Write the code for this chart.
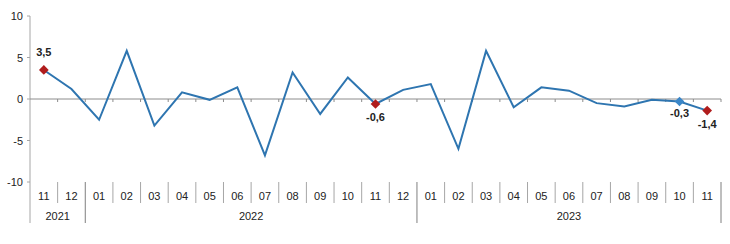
<!DOCTYPE html>
<html>
<head>
<meta charset="utf-8">
<script src="https://cdn.jsdelivr.net/npm/d3@7"></script>
<style>
  body { margin: 0; background: #fff; }
  text { font-family: "Liberation Sans", Arial, sans-serif; }
</style>
</head>
<body>
<div id="chart"></div>
<script>
const months = ['11', '12', '01', '02', '03', '04', '05', '06', '07', '08', '09', '10', '11', '12',
  '01', '02', '03', '04', '05', '06', '07', '08', '09', '10', '11']
const years = ['2021', '2021', '2022', '2022', '2022', '2022', '2022', '2022', '2022', '2022', '2022', '2022', '2022', '2022',
  '2023', '2023', '2023', '2023', '2023', '2023', '2023', '2023', '2023', '2023', '2023']
const values = [3.5, 1.2, -2.5, 5.8, -3.2, 0.8, -0.1, 1.4, -6.8, 3.2, -1.8, 2.6, -0.6, 1.1,
  1.8, -6.0, 5.8, -1.0, 1.4, 1.0, -0.5, -0.9, -0.1, -0.3, -1.4]
const yTicks = [-10, -5, 0, 5, 10]
// highlighted points: index, colour, label offset
const marked = [
  { i: 0, color: '#b01c1c', dy: -14 },
  { i: 12, color: '#b01c1c', dy: 17 },
  { i: 23, color: '#3a86c8', dy: 16 },
  { i: 24, color: '#b01c1c', dy: 17 }
]

const width = 730
const height = 244
const margin = { top: 16, left: 30, right: 9, bottom: 62 }

const svg = d3
  .select('#chart')
  .append('svg')
  .attr('width', width)
  .attr('height', height)

const keys = months.map((m, i) => i)

const xScale = d3
  .scaleBand()
  .domain(keys)
  .range([margin.left, width - margin.right])

const yScale = d3
  .scaleLinear()
  .domain([-10, 10])
  .range([height - margin.bottom, margin.top])

const cx = i => xScale(i) + xScale.bandwidth() / 2

// y axis
svg
  .append('line')
  .attr('x1', margin.left)
  .attr('x2', margin.left)
  .attr('y1', yScale(10))
  .attr('y2', 223)
  .attr('stroke', '#a6a6a6')

svg
  .selectAll('.ytick')
  .data(yTicks)
  .enter()
  .append('line')
  .attr('x1', margin.left - 3)
  .attr('x2', margin.left)
  .attr('y1', d => yScale(d))
  .attr('y2', d => yScale(d))
  .attr('stroke', '#a6a6a6')

svg
  .selectAll('.ylabel')
  .data(yTicks)
  .enter()
  .append('text')
  .attr('x', margin.left - 7)
  .attr('y', d => yScale(d) + 4)
  .attr('text-anchor', 'end')
  .style('font-size', '11px')
  .attr('fill', '#222')
  .text(d => d)

// zero line with small ticks
svg
  .append('line')
  .attr('x1', margin.left)
  .attr('x2', width - margin.right)
  .attr('y1', yScale(0))
  .attr('y2', yScale(0))
  .attr('stroke', '#8c8c8c')

svg
  .selectAll('.ztick')
  .data(keys.slice(1).concat([keys.length]))
  .enter()
  .append('line')
  .attr('x1', d => (d < keys.length ? xScale(d) : width - margin.right))
  .attr('x2', d => (d < keys.length ? xScale(d) : width - margin.right))
  .attr('y1', yScale(0))
  .attr('y2', yScale(0) + 3)
  .attr('stroke', '#8c8c8c')

// category labels and separators
const base = yScale(-10)

svg
  .selectAll('.msep')
  .data(keys.slice(1).filter(i => years[i] === years[i - 1]))
  .enter()
  .append('line')
  .attr('x1', d => xScale(d))
  .attr('x2', d => xScale(d))
  .attr('y1', base)
  .attr('y2', base + 21)
  .attr('stroke', '#a6a6a6')

const yearBreaks = keys.slice(1).filter(i => years[i] !== years[i - 1])

svg
  .selectAll('.ysep')
  .data(yearBreaks.map(i => xScale(i)).concat([width - margin.right]))
  .enter()
  .append('line')
  .attr('x1', d => d)
  .attr('x2', d => d)
  .attr('y1', base)
  .attr('y2', 223)
  .attr('stroke', '#7f7f7f')

svg
  .selectAll('.mlabel')
  .data(keys)
  .enter()
  .append('text')
  .attr('x', d => cx(d))
  .attr('y', base + 18)
  .attr('text-anchor', 'middle')
  .style('font-size', '11px')
  .attr('fill', '#222')
  .text(d => months[d])

const yearGroups = d3.groups(keys, i => years[i])

svg
  .selectAll('.ylab')
  .data(yearGroups)
  .enter()
  .append('text')
  .attr('x', d => (xScale(d[1][0]) + xScale(d[1][d[1].length - 1]) + xScale.bandwidth()) / 2)
  .attr('y', base + 38)
  .attr('text-anchor', 'middle')
  .style('font-size', '11px')
  .attr('fill', '#222')
  .text(d => d[0])

// the line
const line = d3
  .line()
  .x(d => cx(d))
  .y(d => yScale(values[d]))

svg
  .append('path')
  .datum(keys)
  .attr('d', line)
  .attr('fill', 'none')
  .attr('stroke', '#2e75b0')
  .attr('stroke-width', 2)

// markers and labels
const diamond = d3.symbol().type(d3.symbolDiamond2).size(60)

svg
  .selectAll('.marker')
  .data(marked)
  .enter()
  .append('path')
  .attr('d', diamond)
  .attr('transform', d => `translate(${cx(d.i)},${yScale(values[d.i])})`)
  .attr('fill', d => d.color)

svg
  .selectAll('.vlabel')
  .data(marked)
  .enter()
  .append('text')
  .attr('x', d => cx(d.i))
  .attr('y', d => yScale(values[d.i]) + d.dy)
  .attr('text-anchor', 'middle')
  .style('font-size', '11px')
  .style('font-weight', 'bold')
  .attr('fill', '#222')
  .text(d => String(values[d.i]).replace('.', ','))
</script>
</body>
</html>
